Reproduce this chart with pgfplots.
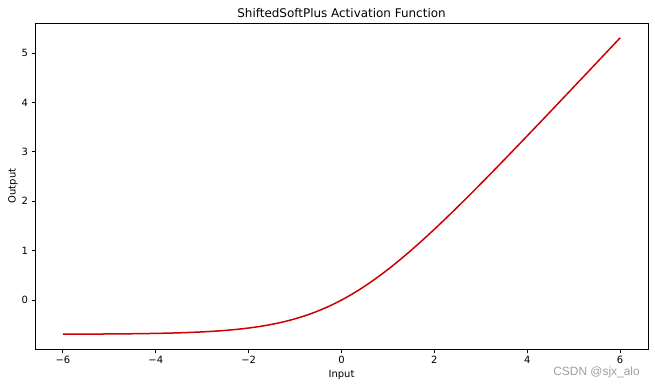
\documentclass[border=0pt]{standalone}
\usepackage{pgfplots}
\pgfplotsset{compat=1.18}
\usepackage{fontspec}
\setmainfont{DejaVu Sans}
\newfontfamily\wmfont{Liberation Sans}
\definecolor{linered}{RGB}{204,0,0}
\begin{document}
\begin{tikzpicture}[x=1bp,y=1bp]
\useasboundingbox (0,0) rectangle (655,387);
\begin{axis}[
  at={(35bp,38bp)}, anchor=south west,
  width=613bp, height=326bp, scale only axis,
  xmin=-6.6, xmax=6.6, ymin=-0.991, ymax=5.609,
  xtick={-6,-4,-2,0,2,4,6},
  xticklabels={−6,−4,−2,0,2,4,6},
  ytick={0,1,2,3,4,5},
  tick align=outside, tick pos=left,
  major tick length=3.5bp,
  every tick/.style={black, line width=0.8bp},
  axis line style={line width=0.8bp},
  /pgf/number format/assume math mode=true,
  tick label style={font=\fontsize{10}{12}\selectfont},
  label style={font=\fontsize{10}{12}\selectfont},
  title style={font=\fontsize{12}{14}\selectfont, yshift=-4.5bp},
  title={ShiftedSoftPlus Activation Function},
  xlabel={Input}, ylabel={Output},
  xlabel style={yshift=0bp},
  ylabel style={yshift=-3bp},
]
\addplot[linered, line width=1.5bp, smooth] coordinates {
(-6,-0.690671) (-5.75,-0.689969) (-5.5,-0.689069) (-5.25,-0.687913)
(-5,-0.686432) (-4.75,-0.684533) (-4.5,-0.682099) (-4.25,-0.678984)
(-4,-0.674998) (-3.75,-0.669901) (-3.5,-0.663397) (-3.25,-0.655106)
(-3,-0.644560) (-2.75,-0.631180) (-2.5,-0.614258) (-2.25,-0.592902)
(-2,-0.566219) (-1.75,-0.532932) (-1.5,-0.491734) (-1.25,-0.441218)
(-1,-0.379885) (-0.75,-0.306276) (-0.5,-0.219070) (-0.25,-0.117208)
(0,0) (0.25,0.132792) (0.5,0.280930) (0.75,0.443724)
(1,0.620115) (1.25,0.808782) (1.5,1.008266) (1.75,1.217068)
(2,1.433781) (2.25,1.657098) (2.5,1.885742) (2.75,2.118820)
(3,2.355440) (3.25,2.594894) (3.5,2.836603) (3.75,3.080099)
(4,3.325002) (4.25,3.571016) (4.5,3.817901) (4.75,4.065467)
(5,4.313568) (5.25,4.562087) (5.5,4.810931) (5.75,5.060031)
(6,5.309329)
};
\end{axis}
\node[anchor=base east, text=black!38, font=\wmfont\fontsize{12}{14}\selectfont, inner sep=0pt] at (640bp,12bp) {CSDN @sjx\_alo};
\end{tikzpicture}
\end{document}
